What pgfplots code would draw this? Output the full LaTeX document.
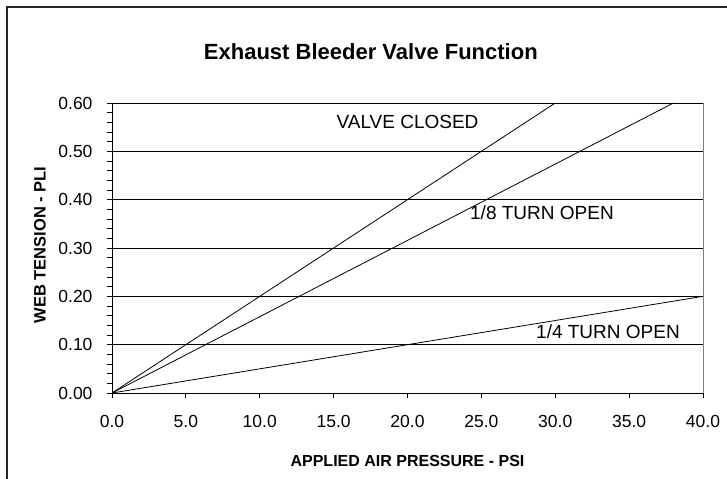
\documentclass[border=0pt]{standalone}
\usepackage{fontspec}
\setmainfont{Liberation Sans}
\usepackage{pgfplots}
\pgfplotsset{compat=1.18}
\begin{document}
\begin{tikzpicture}
\useasboundingbox (0bp,0bp) rectangle (727bp,-479bp);
\draw[line width=1.2bp, black!85] (7bp,-479bp) -- (7bp,-7bp) -- (727bp,-7bp);
\begin{axis}[
  at={(112bp,-393bp)}, anchor=south west,
  scale only axis, width=591bp, height=290bp,
  xmin=0, xmax=40, ymin=0, ymax=0.6,
  axis lines=left, axis line style={-, black, line width=0.8bp},
  xtick={0,5,10,15,20,25,30,35,40},
  ytick={0,0.1,0.2,0.3,0.4,0.5,0.6},
  ymajorgrids, major grid style={black, line width=0.8bp},
  minor y tick num=4,
  tick align=outside, major tick length=5bp, minor tick length=5bp,
  tick style={black, line width=0.8bp},
  /pgf/number format/assume math mode=true,
  xticklabel style={/pgf/number format/fixed, /pgf/number format/fixed zerofill, /pgf/number format/precision=1, yshift=-14bp},
  yticklabel style={/pgf/number format/fixed, /pgf/number format/fixed zerofill, /pgf/number format/precision=2, xshift=-11bp},
  tick label style={font=\fontsize{17.5bp}{20bp}\selectfont},
  xlabel={APPLIED AIR PRESSURE - PSI},
  xlabel style={font=\bfseries\fontsize{16bp}{19bp}\selectfont, at={(axis description cs:0.5,-0.2345)}, anchor=center},
  ylabel={WEB TENSION - PLI},
  ylabel style={font=\bfseries\fontsize{16.5bp}{19bp}\selectfont, at={(axis description cs:-0.1218,0.510)}, anchor=center},
  title={Exhaust Bleeder Valve Function},
  every axis title/.style={font=\bfseries\fontsize{22bp}{26bp}\selectfont, at={(axis description cs:0.438,1.178)}, anchor=center},
  clip=false,
]
\draw[gray, line width=0.8bp] (rel axis cs:1,0) -- (rel axis cs:1,1);
\addplot[black, line width=0.8bp] coordinates {(0,0) (30,0.6)};
\addplot[black, line width=0.8bp] coordinates {(0,0) (38,0.6)};
\addplot[black, line width=0.8bp] coordinates {(0,0) (40,0.2)};
\node[font=\fontsize{19bp}{22bp}\selectfont, anchor=base] at (axis cs:20,0.5477) {VALVE CLOSED};
\node[font=\fontsize{19bp}{22bp}\selectfont, anchor=base] at (axis cs:29.1,0.36) {1/8 TURN OPEN};
\node[font=\fontsize{19bp}{22bp}\selectfont, anchor=base] at (axis cs:33.57,0.1138) {1/4 TURN OPEN};
\end{axis}
\end{tikzpicture}
\end{document}
